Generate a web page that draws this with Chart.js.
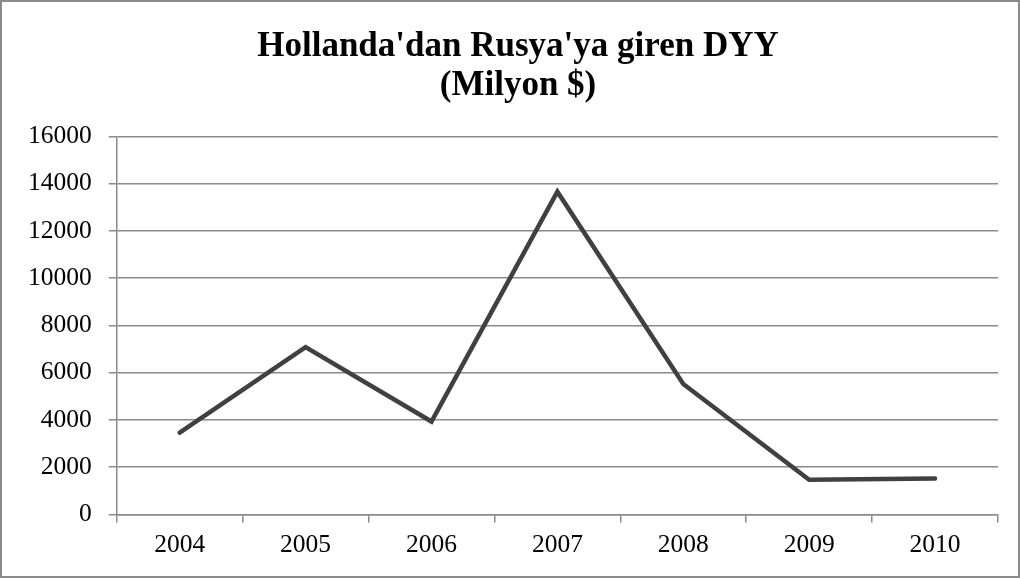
<!DOCTYPE html>
<html>
<head>
<meta charset="utf-8">
<script src="https://cdn.jsdelivr.net/npm/chart.js@4"></script>
<style>
  body { margin: 0; background: #fff; }
  #wrap { width: 1020px; height: 578px; }
</style>
</head>
<body>
<div id="wrap"><canvas id="dyyChart" width="1020" height="578"></canvas></div>
<script>
// data
const years = ['2004', '2005', '2006', '2007', '2008', '2009', '2010'];
const dyyValues = [3460, 7080, 3930, 13660, 5520, 1470, 1520];
const yTicks = [0, 2000, 4000, 6000, 8000, 10000, 12000, 14000, 16000];
const titleLines = ["Hollanda'dan Rusya'ya giren DYY", '(Milyon $)'];

const gridGray = '#8a8a8a';

// outer frame around the whole chart + nudge the title to the right
const framePlugin = {
      id: 'frame',
      afterLayout(chart) {
            if (chart.titleBlock) chart.titleBlock.left += 27;
      },
      beforeDraw(chart) {
            const c = chart.ctx;
            c.save();
            c.fillStyle = '#fff';
            c.fillRect(0, 0, chart.width, chart.height);
            c.strokeStyle = gridGray;
            c.lineWidth = 2;
            c.strokeRect(1, 1, chart.width - 2, chart.height - 2);
            c.restore();
      }
};

const ctx = document.getElementById('dyyChart').getContext('2d');
new Chart(ctx, {
      type: 'line',
      data: {
            labels: years,
            datasets: [{
                  label: 'DYY',
                  data: dyyValues,
                  borderColor: '#404040',
                  borderWidth: 4.5,
                  borderCapStyle: 'round',
                  borderJoinStyle: 'miter',
                  tension: 0,
                  pointRadius: 0,
                  fill: false
            }]
      },
      options: {
            responsive: false,
            animation: false,
            layout: { padding: { left: 11, right: 22, bottom: 9, top: 0 } },
            scales: {
                  x: {
                        offset: true,
                        grid: { offset: true, drawOnChartArea: false, drawTicks: true, tickLength: 8, color: gridGray, lineWidth: 1.5 },
                        border: { color: gridGray, width: 1.5 },
                        ticks: { color: '#000', font: { family: 'Liberation Serif', size: 25.5 }, padding: 8, maxRotation: 0 }
                  },
                  y: {
                        min: 0,
                        max: 16000,
                        afterBuildTicks: (axis) => { axis.ticks = yTicks.map(v => ({ value: v })); },
                        grid: { color: gridGray, lineWidth: 1.5, tickLength: 8 },
                        border: { color: gridGray, width: 1.5 },
                        ticks: {
                              color: '#000',
                              font: { family: 'Liberation Serif', size: 25.5 },
                              padding: 17,
                              callback: (v) => String(v)
                        }
                  }
            },
            plugins: {
                  legend: { display: false },
                  tooltip: { enabled: false },
                  title: {
                        display: true,
                        text: titleLines,
                        color: '#000',
                        font: { family: 'Liberation Serif', size: 35, weight: 'bold', lineHeight: 1.12 },
                        padding: { top: 27, bottom: 31 }
                  }
            }
      },
      plugins: [framePlugin]
});
</script>
</body>
</html>
